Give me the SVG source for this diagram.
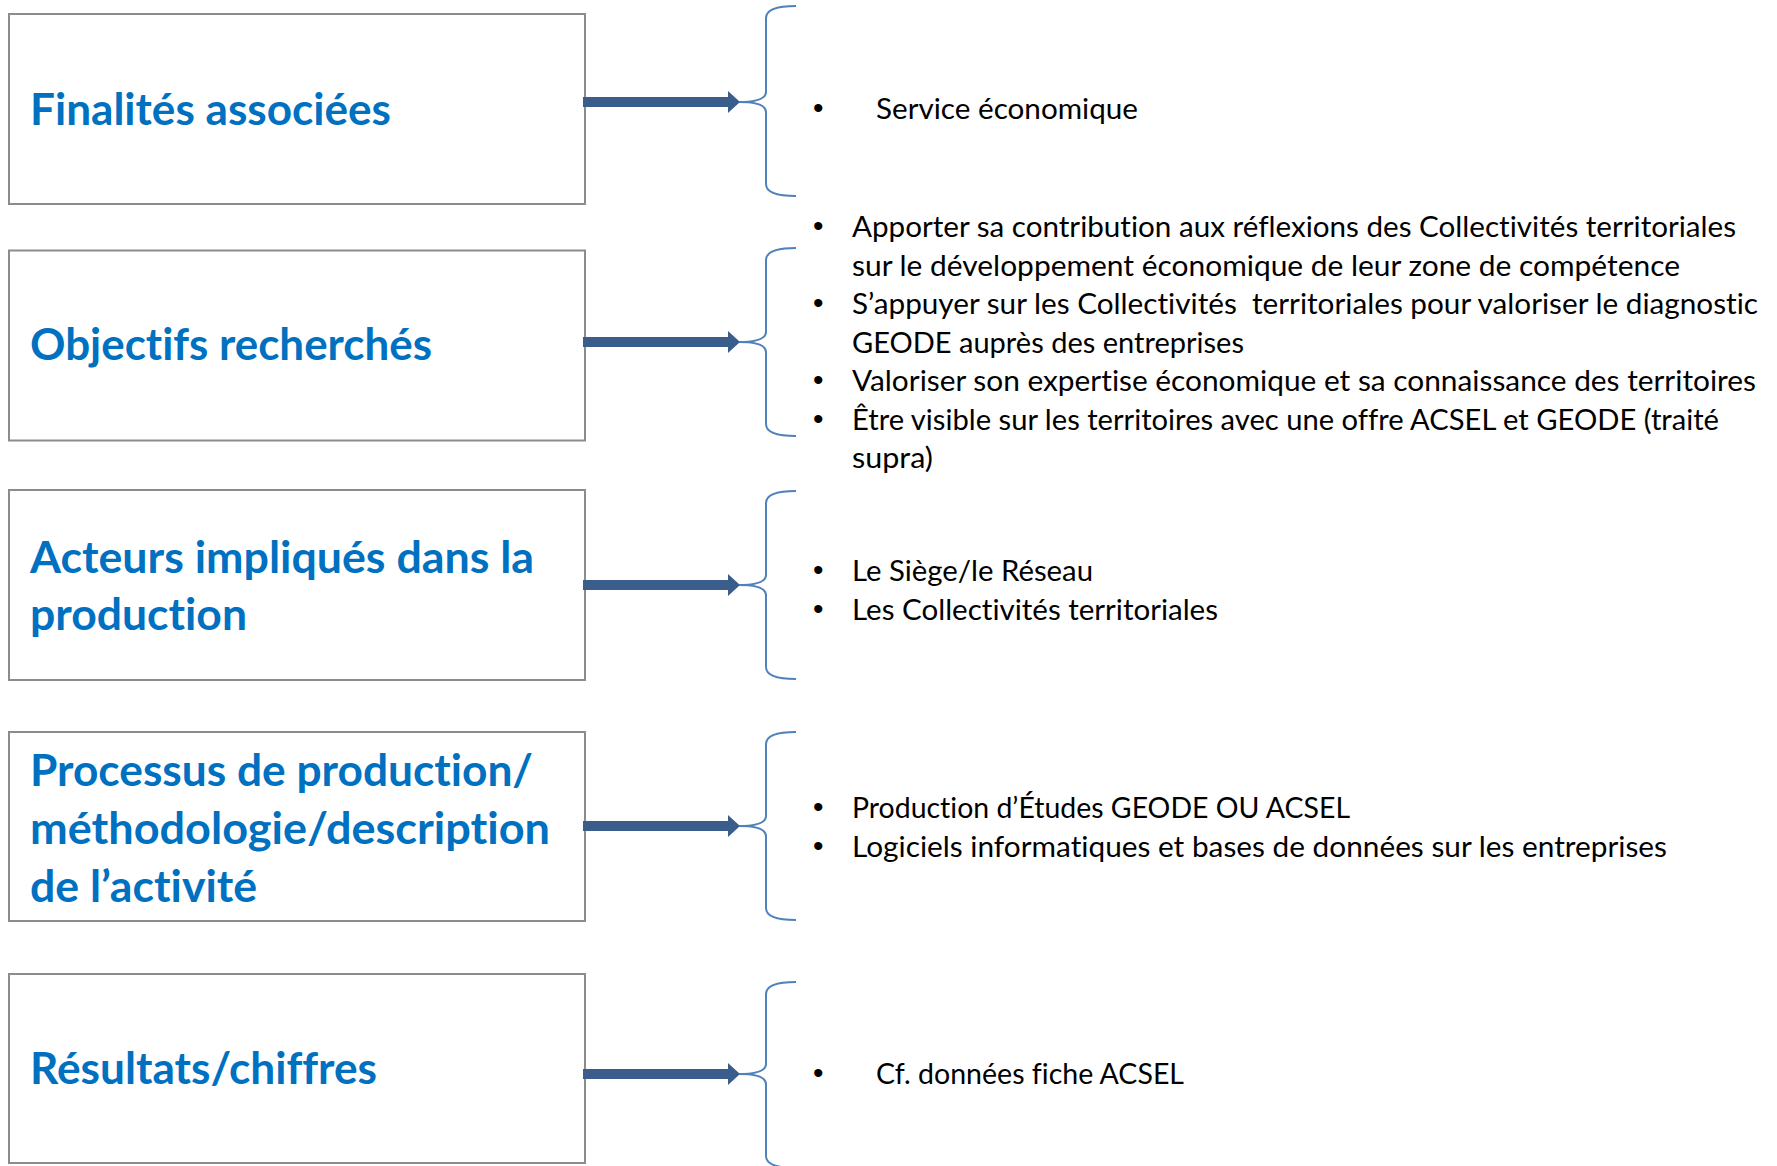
<svg xmlns="http://www.w3.org/2000/svg" width="1777" height="1166" viewBox="0 0 1777 1166">
<style>
.box{fill:#fff;stroke:#8c8c8c;stroke-width:2}
.title{font-family:Lato,"Open Sans","Liberation Sans",sans-serif;font-weight:700;font-size:44px;fill:#0070c0;font-variant-ligatures:none;font-feature-settings:"liga" 0,"dlig" 0}
.item{font-family:Lato,"Open Sans","Liberation Sans",sans-serif;font-size:28px;fill:#000;font-variant-ligatures:none;font-feature-settings:"liga" 0,"dlig" 0}
.bullet{font-family:"Liberation Sans",sans-serif;font-size:30px;fill:#000}
.arrow{stroke:#3a5d8b;stroke-width:10;fill:none;marker-end:url(#head)}
.brace{stroke:#4f81bd;stroke-width:2;fill:none}
</style>
<defs>
<marker id="head" viewBox="0 0 12 22" refX="0" refY="11" markerWidth="12" markerHeight="22" markerUnits="userSpaceOnUse" orient="auto">
<path d="M0,0 L12,11 L0,22 z" fill="#3a5d8b"/>
</marker>
</defs>
<rect width="1777" height="1166" fill="#fff"/>

<g id="node-finalites">
<rect class="box" x="9" y="14" width="576" height="190"/>
<text class="title" x="30" y="125" textLength="361" lengthAdjust="spacingAndGlyphs">Finalités associées</text>
</g>
<g id="node-objectifs">
<rect class="box" x="9" y="250.5" width="576" height="190"/>
<text class="title" x="30" y="360" textLength="402" lengthAdjust="spacingAndGlyphs">Objectifs recherchés</text>
</g>
<g id="node-acteurs">
<rect class="box" x="9" y="490" width="576" height="190"/>
<text class="title" x="30" y="573" textLength="504" lengthAdjust="spacingAndGlyphs">Acteurs impliqués dans la</text>
<text class="title" x="30" y="630" textLength="217" lengthAdjust="spacingAndGlyphs">production</text>
</g>
<g id="node-processus">
<rect class="box" x="9" y="732" width="576" height="189"/>
<text class="title" x="30" y="786" textLength="503" lengthAdjust="spacingAndGlyphs">Processus de production/</text>
<text class="title" x="30" y="844" textLength="520" lengthAdjust="spacingAndGlyphs">méthodologie/description</text>
<text class="title" x="30" y="902" textLength="227" lengthAdjust="spacingAndGlyphs">de l’activité</text>
</g>
<g id="node-resultats">
<rect class="box" x="9" y="974" width="576" height="189"/>
<text class="title" x="30" y="1084" textLength="347" lengthAdjust="spacingAndGlyphs">Résultats/chiffres</text>
</g>

<g id="connectors">
<line class="arrow" x1="583" y1="102" x2="728" y2="102"/>
<line class="arrow" x1="583" y1="342" x2="728" y2="342"/>
<line class="arrow" x1="583" y1="585" x2="728" y2="585"/>
<line class="arrow" x1="583" y1="826" x2="728" y2="826"/>
<line class="arrow" x1="583" y1="1074" x2="728" y2="1074"/>
<path class="brace" d="M796,6 Q766,6 766,18 L766,92 Q766,102 739,102 Q766,102 766,112 L766,184 Q766,196 796,196"/>
<path class="brace" d="M796,248 Q766,248 766,260 L766,332 Q766,342 739,342 Q766,342 766,352 L766,424 Q766,436 796,436"/>
<path class="brace" d="M796,491 Q766,491 766,503 L766,575 Q766,585 739,585 Q766,585 766,595 L766,667 Q766,679 796,679"/>
<path class="brace" d="M796,732 Q766,732 766,744 L766,816 Q766,826 739,826 Q766,826 766,836 L766,908 Q766,920 796,920"/>
<path class="brace" d="M796,982 Q766,982 766,994 L766,1064 Q766,1074 739,1074 Q766,1074 766,1084 L766,1156 Q766,1168 796,1168"/>
</g>

<g id="list-finalites">
<text class="bullet" x="813" y="118">•</text>
<text class="item" x="876" y="119" textLength="262" lengthAdjust="spacingAndGlyphs">Service économique</text>
</g>
<g id="list-objectifs">
<text class="bullet" x="813" y="236">•</text>
<text class="item" x="852" y="237" textLength="884" lengthAdjust="spacingAndGlyphs">Apporter sa contribution aux réflexions des Collectivités territoriales</text>
<text class="item" x="852" y="275.5" textLength="828" lengthAdjust="spacingAndGlyphs">sur le développement économique de leur zone de compétence</text>
<text class="bullet" x="813" y="313">•</text>
<text class="item" x="852" y="314" textLength="906" lengthAdjust="spacingAndGlyphs" xml:space="preserve">S’appuyer sur les Collectivités  territoriales pour valoriser le diagnostic</text>
<text class="item" x="852" y="352.5" textLength="392" lengthAdjust="spacingAndGlyphs">GEODE auprès des entreprises</text>
<text class="bullet" x="813" y="390">•</text>
<text class="item" x="852" y="391" textLength="904" lengthAdjust="spacingAndGlyphs">Valoriser son expertise économique et sa connaissance des territoires</text>
<text class="bullet" x="813" y="428.5">•</text>
<text class="item" x="852" y="429.5" textLength="867" lengthAdjust="spacingAndGlyphs">Être visible sur les territoires avec une offre ACSEL et GEODE (traité</text>
<text class="item" x="852" y="468" textLength="81" lengthAdjust="spacingAndGlyphs">supra)</text>
</g>
<g id="list-acteurs">
<text class="bullet" x="813" y="580">•</text>
<text class="item" x="852" y="581" textLength="241" lengthAdjust="spacingAndGlyphs">Le Siège/le Réseau</text>
<text class="bullet" x="813" y="618.5">•</text>
<text class="item" x="852" y="619.5" textLength="366" lengthAdjust="spacingAndGlyphs">Les Collectivités territoriales</text>
</g>
<g id="list-processus">
<text class="bullet" x="813" y="817">•</text>
<text class="item" x="852" y="818" textLength="498" lengthAdjust="spacingAndGlyphs">Production d’Études GEODE OU ACSEL</text>
<text class="bullet" x="813" y="855.5">•</text>
<text class="item" x="852" y="856.5" textLength="815" lengthAdjust="spacingAndGlyphs">Logiciels informatiques et bases de données sur les entreprises</text>
</g>
<g id="list-resultats">
<text class="bullet" x="813" y="1083">•</text>
<text class="item" x="876" y="1084" textLength="308" lengthAdjust="spacingAndGlyphs">Cf. données fiche ACSEL</text>
</g>
</svg>
